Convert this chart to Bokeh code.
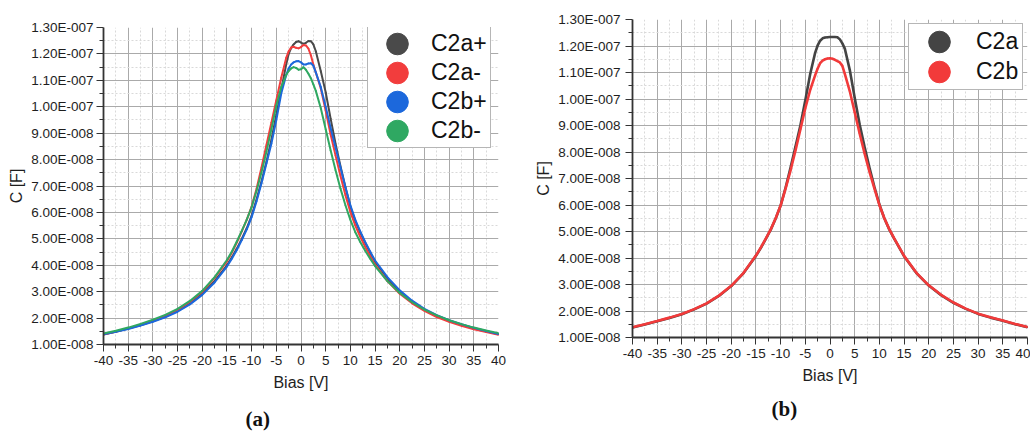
from bokeh.plotting import figure
from bokeh.models import Range1d, FixedTicker, Legend, LegendItem, ColumnDataSource, Title
from bokeh.layouts import row
from bokeh.embed import file_html
from bokeh.resources import INLINE

# ---------------- data (capacitance in units of 1e-8 F) ----------------
bias_v = [-40, -37.5, -35, -32.5, -30, -27.5, -25, -22.5, -20, -17.5, -15,
          -14, -13, -12, -11, -10, -9, -8, -7, -6, -5, -4, -3,
          -2.5, -2, -1.5, -1, -0.5, 0, 0.5, 1, 1.5, 2, 2.5, 3,
          4, 5, 6, 7, 8, 9, 10, 11, 12, 13, 14, 15,
          17.5, 20, 22.5, 25, 27.5, 30, 32.5, 35, 37.5, 40]

c2a_plus = [1.38, 1.48, 1.60, 1.73, 1.88, 2.05, 2.27, 2.55, 2.92, 3.40, 4.00,
            4.30, 4.63, 5.00, 5.40, 5.88, 6.50, 7.18, 7.92, 8.75, 9.70, 10.65, 11.60,
            12.00, 12.22, 12.36, 12.45, 12.48, 12.43, 12.38, 12.42, 12.49, 12.48, 12.36, 12.10,
            11.35, 10.55, 9.55, 8.60, 7.75, 6.95, 6.22, 5.68, 5.24, 4.85, 4.48, 4.14,
            3.50, 3.00, 2.62, 2.32, 2.09, 1.90, 1.75, 1.62, 1.50, 1.39]

c2a_minus = [1.38, 1.49, 1.61, 1.75, 1.90, 2.08, 2.31, 2.61, 3.00, 3.52, 4.15,
             4.48, 4.86, 5.28, 5.72, 6.22, 6.90, 7.70, 8.55, 9.40, 10.25, 11.10, 11.85,
             12.10, 12.24, 12.27, 12.23, 12.21, 12.26, 12.34, 12.32, 12.20, 11.95, 11.60, 11.30,
             10.70, 9.85, 8.95, 8.15, 7.38, 6.65, 6.02, 5.50, 5.08, 4.70, 4.35, 4.02,
             3.40, 2.92, 2.56, 2.27, 2.04, 1.86, 1.71, 1.58, 1.47, 1.37]

c2b_plus = [1.39, 1.48, 1.59, 1.72, 1.86, 2.03, 2.24, 2.52, 2.88, 3.35, 3.95,
            4.25, 4.58, 4.95, 5.35, 5.82, 6.42, 7.10, 7.85, 8.60, 9.50, 10.50, 11.20,
            11.45, 11.60, 11.68, 11.72, 11.73, 11.68, 11.60, 11.60, 11.64, 11.65, 11.55, 11.30,
            10.75, 10.00, 9.20, 8.45, 7.70, 6.95, 6.27, 5.72, 5.28, 4.88, 4.52, 4.18,
            3.55, 3.05, 2.66, 2.35, 2.11, 1.92, 1.77, 1.63, 1.51, 1.40]

c2b_minus = [1.42, 1.52, 1.64, 1.78, 1.94, 2.12, 2.35, 2.65, 3.03, 3.55, 4.20,
             4.52, 4.90, 5.30, 5.72, 6.20, 6.82, 7.52, 8.30, 9.15, 10.05, 10.75, 11.20,
             11.35, 11.45, 11.50, 11.47, 11.40, 11.42, 11.50, 11.40, 11.25, 11.08, 10.85, 10.60,
             9.95, 9.15, 8.35, 7.60, 6.90, 6.27, 5.72, 5.25, 4.88, 4.55, 4.25, 3.97,
             3.40, 2.95, 2.60, 2.32, 2.10, 1.92, 1.77, 1.64, 1.53, 1.43]

c2a_avg = [1.38, 1.49, 1.61, 1.74, 1.88, 2.06, 2.28, 2.57, 2.94, 3.43, 4.08,
           4.38, 4.72, 5.07, 5.49, 5.98, 6.65, 7.40, 8.20, 9.00, 9.95, 10.95, 11.75,
           12.02, 12.20, 12.29, 12.32, 12.33, 12.34, 12.34, 12.34, 12.33, 12.25, 12.10, 11.90,
           11.10, 10.05, 9.05, 8.20, 7.40, 6.68, 6.02, 5.50, 5.08, 4.73, 4.40, 4.07,
           3.43, 2.96, 2.60, 2.31, 2.08, 1.89, 1.75, 1.63, 1.50, 1.39]

c2b_avg = [1.39, 1.50, 1.62, 1.75, 1.89, 2.07, 2.29, 2.58, 2.95, 3.44, 4.09,
           4.40, 4.73, 5.08, 5.50, 5.98, 6.62, 7.30, 8.05, 8.85, 9.65, 10.35, 10.90,
           11.15, 11.35, 11.45, 11.50, 11.53, 11.54, 11.52, 11.48, 11.43, 11.38, 11.25, 10.95,
           10.30, 9.50, 8.70, 7.95, 7.25, 6.62, 6.00, 5.50, 5.09, 4.74, 4.41, 4.08,
           3.44, 2.97, 2.61, 2.32, 2.09, 1.90, 1.76, 1.64, 1.51, 1.40]

x_ticks = [-40, -35, -30, -25, -20, -15, -10, -5, 0, 5, 10, 15, 20, 25, 30, 35, 40]
x_tick_labels = ["-40", "-35", "-30", "-25", "-20", "-15", "-10", "-5", "0", "5", "10",
                 "15", "20", "25", "30", "35", "40"]
y_ticks = [1, 2, 3, 4, 5, 6, 7, 8, 9, 10, 11, 12, 13]
y_tick_labels = ["1.00E-008", "2.00E-008", "3.00E-008", "4.00E-008", "5.00E-008",
                 "6.00E-008", "7.00E-008", "8.00E-008", "9.00E-008", "1.00E-007",
                 "1.10E-007", "1.20E-007", "1.30E-007"]

panel_a_series = [("C2a+", c2a_plus, "#4a4a4a"), ("C2a-", c2a_minus, "#f23d3d"),
                  ("C2b+", c2b_plus, "#1c68dc"), ("C2b-", c2b_minus, "#2fa862")]
panel_b_series = [("C2a", c2a_avg, "#444444"), ("C2b", c2b_avg, "#f23a3a")]

FONT = "Liberation Sans"


def make_panel(width, borders, series, line_width, legend_loc, legend_pad,
               legend_standoff, glyph_h, spacing, label_standoff, caption, cap_offset,
               cap_standoff, spacer_standoff):
    bl, br, bt, bb = borders
    p = figure(width=width, height=432, x_range=Range1d(-40, 40), y_range=Range1d(1, 13),
               output_backend="svg", toolbar_location=None, frame_align=False,
               min_border_left=bl, min_border_right=br, min_border_top=bt, min_border_bottom=bb)
    p.outline_line_color = None
    p.background_fill_color = "white"
    p.border_fill_color = "white"

    xt = FixedTicker(ticks=x_ticks, minor_ticks=[t + 2.5 for t in x_ticks[:-1]])
    yt = FixedTicker(ticks=y_ticks, minor_ticks=[t + 0.5 for t in y_ticks[:-1]])
    p.xaxis.ticker = xt
    p.yaxis.ticker = yt
    p.xgrid.ticker = xt
    p.ygrid.ticker = yt
    p.xaxis.major_label_overrides = dict(zip(x_ticks, x_tick_labels))
    p.yaxis.major_label_overrides = dict(zip(y_ticks, y_tick_labels))

    for g in (p.xgrid, p.ygrid):
        g.grid_line_color = "#aaaaaa"
        g.grid_line_width = 1
        g.minor_grid_line_color = "#d9d9d9"
        g.minor_grid_line_dash = "2 2"

    for ax in (p.xaxis[0], p.yaxis[0]):
        ax.axis_line_color = "#333333"
        ax.axis_line_width = 1.8
        ax.major_tick_line_color = "#333333"
        ax.minor_tick_line_color = "#333333"
        ax.major_tick_out = 7
        ax.major_tick_in = 0
        ax.minor_tick_out = 4
        ax.minor_tick_in = 0
        ax.major_label_text_font = FONT
        ax.major_label_text_font_size = "13.5px"
        ax.major_label_text_color = "#1e1e1e"
        ax.axis_label_text_font = FONT
        ax.axis_label_text_font_size = "16px"
        ax.axis_label_text_font_style = "normal"
        ax.axis_label_text_color = "#1e1e1e"
    p.xaxis.axis_label = "Bias [V]"
    p.yaxis.axis_label = "C [F]"
    p.xaxis.major_label_standoff = 4
    p.xaxis.axis_label_standoff = 6
    p.yaxis.major_label_standoff = label_standoff
    p.yaxis.axis_label_standoff = 3

    items = []
    for name, vals, col in series:
        src = ColumnDataSource(dict(x=bias_v, y=vals))
        p.line("x", "y", source=src, line_color=col, line_width=line_width)
        ell = p.ellipse("x", "y", source=src, width=1, height=1, width_units="screen",
                        height_units="screen", fill_color=col, line_color=col)
        items.append(LegendItem(label=name, renderers=[ell]))

    leg = Legend(items=items, location=legend_loc, padding=legend_pad, spacing=spacing,
                 glyph_width=52, glyph_height=glyph_h, label_standoff=legend_standoff,
                 label_text_font=FONT, label_text_font_size="23px", label_text_color="#111111",
                 border_line_color="#6e6e6e", border_line_width=1,
                 background_fill_color="white", background_fill_alpha=1.0, margin=0)
    p.add_layout(leg)

    if spacer_standoff > 0:
        p.add_layout(Title(text=" ", text_font_size="1px", standoff=spacer_standoff), "below")
    p.add_layout(Title(text="(" + caption + ")", align="left", offset=cap_offset,
                       text_font="Liberation Serif", text_font_size="21px",
                       text_font_style="bold", text_color="#111111",
                       standoff=cap_standoff), "below")
    return p


pa = make_panel(520, (103, 22, 27, 87), panel_a_series, 2.0, (264, 196), 3, 8, 27, 2, 3,
                "a", 142, 4, 6)
pb = make_panel(510, (112, 3, 19, 95), panel_b_series, 2.6, (276, 247), 4, 11, 27, 3, 5,
                "b", 139, 17, 0)

layout = row(pa, pb)
open("out.html", "w").write(file_html(layout, INLINE))
